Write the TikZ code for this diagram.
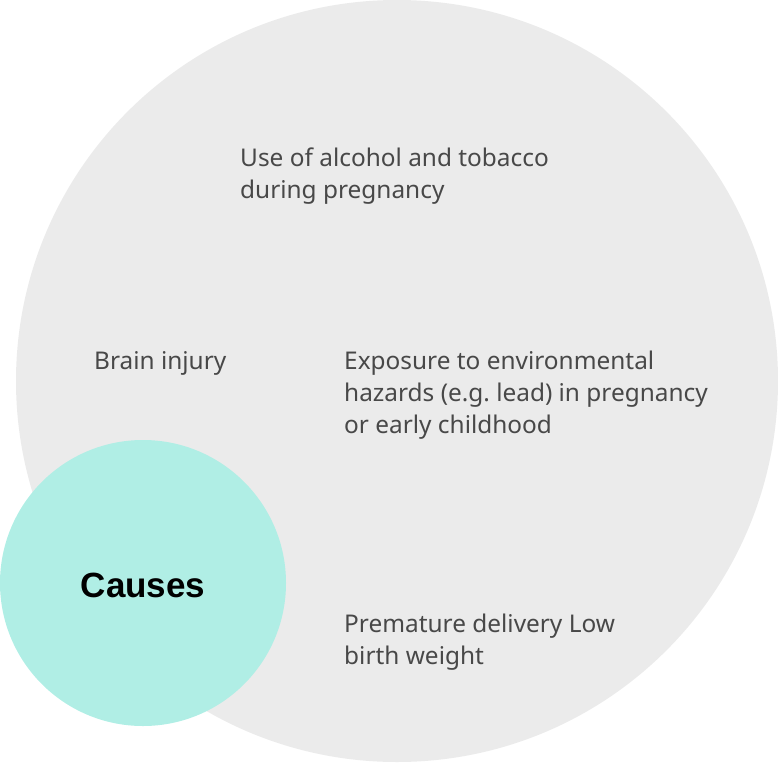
\documentclass[tikz,border=0pt]{standalone}
\usepackage{fontspec}
\setmainfont{Noto Sans}
\newfontfamily\causefont{Liberation Sans}
\definecolor{bgcircle}{HTML}{EBEBEB}
\definecolor{causecircle}{HTML}{B0EEE5}
\definecolor{labeltext}{HTML}{484848}
\tikzset{
    factor/.style={anchor=north west, align=left, inner sep=0pt,
        text=labeltext, font=\fontsize{24.4}{32}\selectfont}
}
\begin{document}
\begin{tikzpicture}[x=1pt, y=-1pt]

\useasboundingbox (0,0) rectangle (778,762);

% === Outer circle ===
\fill[bgcircle] (397,381) circle (381);

% === Causes circle ===
\fill[causecircle] (143,583) circle (143);
\node[font=\causefont\fontsize{35}{40}\selectfont\bfseries] (causes) at (143,585) {Causes};

% === Factors ===
\node[factor] (alcohol) at (240,148) {Use of alcohol and tobacco\\during pregnancy};
\node[factor] (brain) at (94,351) {Brain injury};
\node[factor] (exposure) at (344,351) {Exposure to environmental\\hazards (e.g.\ lead) in pregnancy\\or early childhood};
\node[factor] (premature) at (344,614) {Premature delivery Low\\birth weight};

\end{tikzpicture}
\end{document}
